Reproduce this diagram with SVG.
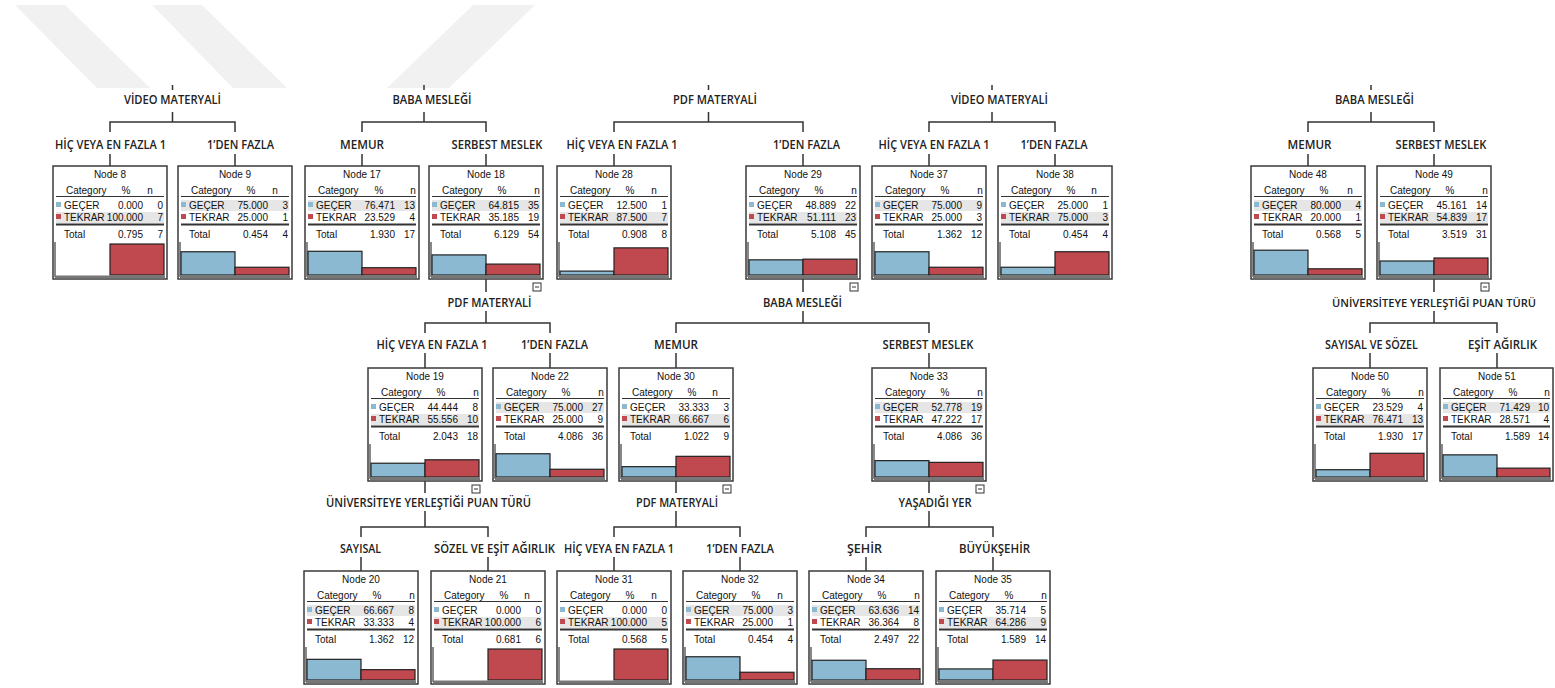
<svg xmlns="http://www.w3.org/2000/svg" width="1555" height="688" viewBox="0 0 1555 688">
<style>
.h{font-family:"Open Sans","Liberation Sans",sans-serif;font-weight:600;font-size:12.5px;fill:#222;text-anchor:middle}
.hs{font-size:11px}
.t{font-family:"Liberation Sans",Arial,sans-serif;font-size:10px;fill:#111}
.c{text-anchor:middle}
.r{text-anchor:end}
.box{fill:#fff;stroke:#3a3a3a;stroke-width:1.5}
.hl{fill:#e6e6e6}
.ul{stroke:#333;stroke-width:1}
.tl{stroke:#333;stroke-width:2}
.ax{stroke:#888;stroke-width:2}
.sb{fill:#8ab9d1}
.sr{fill:#c0484f}
.bb{fill:#8ab9d1;stroke:#222;stroke-width:1.2}
.br{fill:#c0484f;stroke:#222;stroke-width:1.2}
.base{fill:#777}
.ci rect{fill:#fff;stroke:#333;stroke-width:1}
.ci line{stroke:#333;stroke-width:1}
.con{fill:none;stroke:#333;stroke-width:1.5}
.wm{fill:#f1f1f1}
</style>
<rect width="1555" height="688" fill="#fff"/>
<g id="watermark">
<polygon class="wm" points="15,5 65,5 150,88 97,88"/>
<polygon class="wm" points="152,5 202,5 287,88 233,88"/>
<polygon class="wm" points="473,5 535,5 449,88 387,88"/>
</g>
<g id="connectors">
<path class="con" d="M172.5,85V90 M172.5,112V122 M110,132V122H235V132 M110,154V166 M235,154V166"/>
<path class="con" d="M424,85V90 M424,112V122 M362,132V122H486V132 M362,154V166 M486,154V166"/>
<path class="con" d="M708.5,85V90 M708.5,112V122 M614,132V122H803V132 M614,154V166 M803,154V166"/>
<path class="con" d="M992,85V90 M992,112V122 M929,132V122H1055V132 M929,154V166 M1055,154V166"/>
<path class="con" d="M1371,85V90 M1371,112V122 M1308,132V122H1434V132 M1308,154V166 M1434,154V166"/>
<path class="con" d="M486,279V292 M486,311V323 M425,333V323H550V333 M425,353V368 M550,353V368"/>
<path class="con" d="M803,279V292 M803,311V323 M676,333V323H929V333 M676,353V368 M929,353V368"/>
<path class="con" d="M1434,279V292 M1434,311V323 M1370,333V323H1497V333 M1370,353V368 M1497,353V368"/>
<path class="con" d="M425,481V493 M425,511V527 M361,537V527H488V537 M361,557V571 M488,557V571"/>
<path class="con" d="M676,481V493 M676,511V527 M614,537V527H740V537 M614,557V571 M740,557V571"/>
<path class="con" d="M929,481V493 M929,511V527 M866,537V527H993V537 M866,557V571 M993,557V571"/>
</g>
<g id="labels">
<text class="h" x="172.5" y="104" textLength="97" lengthAdjust="spacingAndGlyphs">VİDEO MATERYALİ</text>
<text class="h" x="110.5" y="149" textLength="111" lengthAdjust="spacingAndGlyphs">HİÇ VEYA EN FAZLA 1</text>
<text class="h" x="240.5" y="149" textLength="67" lengthAdjust="spacingAndGlyphs">1’DEN FAZLA</text>
<text class="h" x="432" y="104" textLength="79" lengthAdjust="spacingAndGlyphs">BABA MESLEĞİ</text>
<text class="h" x="362" y="149" textLength="44" lengthAdjust="spacingAndGlyphs">MEMUR</text>
<text class="h" x="497" y="149" textLength="91" lengthAdjust="spacingAndGlyphs">SERBEST MESLEK</text>
<text class="h" x="715" y="104" textLength="84" lengthAdjust="spacingAndGlyphs">PDF MATERYALİ</text>
<text class="h" x="622" y="149" textLength="111" lengthAdjust="spacingAndGlyphs">HİÇ VEYA EN FAZLA 1</text>
<text class="h" x="806.5" y="149" textLength="67" lengthAdjust="spacingAndGlyphs">1’DEN FAZLA</text>
<text class="h" x="999.5" y="104" textLength="97" lengthAdjust="spacingAndGlyphs">VİDEO MATERYALİ</text>
<text class="h" x="934" y="149" textLength="111" lengthAdjust="spacingAndGlyphs">HİÇ VEYA EN FAZLA 1</text>
<text class="h" x="1054" y="149" textLength="67" lengthAdjust="spacingAndGlyphs">1’DEN FAZLA</text>
<text class="h" x="1374.5" y="104" textLength="79" lengthAdjust="spacingAndGlyphs">BABA MESLEĞİ</text>
<text class="h" x="1309.5" y="149" textLength="44" lengthAdjust="spacingAndGlyphs">MEMUR</text>
<text class="h" x="1441" y="149" textLength="91" lengthAdjust="spacingAndGlyphs">SERBEST MESLEK</text>
<text class="h" x="489.5" y="307" textLength="84" lengthAdjust="spacingAndGlyphs">PDF MATERYALİ</text>
<text class="h" x="432" y="349" textLength="111" lengthAdjust="spacingAndGlyphs">HİÇ VEYA EN FAZLA 1</text>
<text class="h" x="554.5" y="349" textLength="67" lengthAdjust="spacingAndGlyphs">1’DEN FAZLA</text>
<text class="h" x="802.5" y="307" textLength="79" lengthAdjust="spacingAndGlyphs">BABA MESLEĞİ</text>
<text class="h" x="676" y="349" textLength="44" lengthAdjust="spacingAndGlyphs">MEMUR</text>
<text class="h" x="928" y="349" textLength="91" lengthAdjust="spacingAndGlyphs">SERBEST MESLEK</text>
<text class="h hs" x="1434" y="307" textLength="204" lengthAdjust="spacingAndGlyphs">ÜNİVERSİTEYE YERLEŞTİĞİ PUAN TÜRÜ</text>
<text class="h" x="1371.5" y="349" textLength="93" lengthAdjust="spacingAndGlyphs">SAYISAL VE SÖZEL</text>
<text class="h" x="1502.5" y="349" textLength="69" lengthAdjust="spacingAndGlyphs">EŞİT AĞIRLIK</text>
<text class="h" x="428.5" y="507" textLength="205" lengthAdjust="spacingAndGlyphs">ÜNİVERSİTEYE YERLEŞTİĞİ PUAN TÜRÜ</text>
<text class="h" x="360.5" y="553" textLength="41" lengthAdjust="spacingAndGlyphs">SAYISAL</text>
<text class="h" x="494.5" y="553" textLength="121" lengthAdjust="spacingAndGlyphs">SÖZEL VE EŞİT AĞIRLIK</text>
<text class="h" x="677" y="507" textLength="82" lengthAdjust="spacingAndGlyphs">PDF MATERYALİ</text>
<text class="h" x="619" y="553" textLength="110" lengthAdjust="spacingAndGlyphs">HİÇ VEYA EN FAZLA 1</text>
<text class="h" x="740" y="553" textLength="68" lengthAdjust="spacingAndGlyphs">1’DEN FAZLA</text>
<text class="h" x="935" y="507" textLength="73" lengthAdjust="spacingAndGlyphs">YAŞADIĞI YER</text>
<text class="h" x="864.5" y="553" textLength="35" lengthAdjust="spacingAndGlyphs">ŞEHİR</text>
<text class="h" x="994.5" y="553" textLength="71" lengthAdjust="spacingAndGlyphs">BÜYÜKŞEHİR</text>
</g>

<g id="node8" transform="translate(53,166)">
<rect class="box" width="114" height="113"/>
<text class="t c" x="57" y="12">Node 8</text>
<text class="t" x="13" y="28">Category</text><text class="t c" x="73" y="28">%</text><text class="t c" x="97" y="28">n</text>
<line class="ul" x1="3" y1="30.5" x2="111" y2="30.5"/>
<rect class="hl" x="3" y="46" width="108" height="11"/>
<rect class="sb" x="3" y="36" width="5" height="5"/><text class="t" x="11" y="43">GEÇER</text><text class="t r" x="90" y="43">0.000</text><text class="t r" x="110" y="43">0</text>
<rect class="sr" x="3" y="48" width="5" height="5"/><text class="t" x="11" y="55">TEKRAR</text><text class="t r" x="90" y="55">100.000</text><text class="t r" x="110" y="55">7</text>
<line class="tl" x1="3" y1="58.5" x2="111" y2="58.5"/>
<text class="t" x="11" y="72">Total</text><text class="t r" x="90" y="72">0.795</text><text class="t r" x="110" y="72">7</text>
<line class="ax" x1="2" y1="76" x2="2" y2="111"/>
<rect class="br" x="57" y="78" width="54" height="31"/>
<rect class="base" x="2" y="109.5" width="110" height="2.5"/>
</g>

<g id="node9" transform="translate(178,166)">
<rect class="box" width="114" height="113"/>
<text class="t c" x="57" y="12">Node 9</text>
<text class="t" x="13" y="28">Category</text><text class="t c" x="73" y="28">%</text><text class="t c" x="97" y="28">n</text>
<line class="ul" x1="3" y1="30.5" x2="111" y2="30.5"/>
<rect class="hl" x="3" y="34" width="108" height="11"/>
<rect class="sb" x="3" y="36" width="5" height="5"/><text class="t" x="11" y="43">GEÇER</text><text class="t r" x="90" y="43">75.000</text><text class="t r" x="110" y="43">3</text>
<rect class="sr" x="3" y="48" width="5" height="5"/><text class="t" x="11" y="55">TEKRAR</text><text class="t r" x="90" y="55">25.000</text><text class="t r" x="110" y="55">1</text>
<line class="tl" x1="3" y1="58.5" x2="111" y2="58.5"/>
<text class="t" x="11" y="72">Total</text><text class="t r" x="90" y="72">0.454</text><text class="t r" x="110" y="72">4</text>
<line class="ax" x1="2" y1="76" x2="2" y2="111"/>
<rect class="bb" x="3" y="85.75" width="54" height="23.25"/>
<rect class="br" x="57" y="101.25" width="54" height="7.75"/>
<rect class="base" x="2" y="109.5" width="110" height="2.5"/>
</g>

<g id="node17" transform="translate(305,166)">
<rect class="box" width="114" height="113"/>
<text class="t c" x="57" y="12">Node 17</text>
<text class="t" x="13" y="28">Category</text><text class="t c" x="74" y="28">%</text><text class="t c" x="108" y="28">n</text>
<line class="ul" x1="3" y1="30.5" x2="111" y2="30.5"/>
<rect class="hl" x="3" y="34" width="108" height="11"/>
<rect class="sb" x="3" y="36" width="5" height="5"/><text class="t" x="11" y="43">GEÇER</text><text class="t r" x="90" y="43">76.471</text><text class="t r" x="110" y="43">13</text>
<rect class="sr" x="3" y="48" width="5" height="5"/><text class="t" x="11" y="55">TEKRAR</text><text class="t r" x="90" y="55">23.529</text><text class="t r" x="110" y="55">4</text>
<line class="tl" x1="3" y1="58.5" x2="111" y2="58.5"/>
<text class="t" x="11" y="72">Total</text><text class="t r" x="90" y="72">1.930</text><text class="t r" x="110" y="72">17</text>
<line class="ax" x1="2" y1="76" x2="2" y2="111"/>
<rect class="bb" x="3" y="85.29" width="54" height="23.71"/>
<rect class="br" x="57" y="101.71" width="54" height="7.29"/>
<rect class="base" x="2" y="109.5" width="110" height="2.5"/>
</g>

<g id="node18" transform="translate(429,166)">
<rect class="box" width="114" height="113"/>
<text class="t c" x="57" y="12">Node 18</text>
<text class="t" x="13" y="28">Category</text><text class="t c" x="73" y="28">%</text><text class="t c" x="108" y="28">n</text>
<line class="ul" x1="3" y1="30.5" x2="111" y2="30.5"/>
<rect class="hl" x="3" y="34" width="108" height="11"/>
<rect class="sb" x="3" y="36" width="5" height="5"/><text class="t" x="11" y="43">GEÇER</text><text class="t r" x="90" y="43">64.815</text><text class="t r" x="110" y="43">35</text>
<rect class="sr" x="3" y="48" width="5" height="5"/><text class="t" x="11" y="55">TEKRAR</text><text class="t r" x="90" y="55">35.185</text><text class="t r" x="110" y="55">19</text>
<line class="tl" x1="3" y1="58.5" x2="111" y2="58.5"/>
<text class="t" x="11" y="72">Total</text><text class="t r" x="90" y="72">6.129</text><text class="t r" x="110" y="72">54</text>
<line class="ax" x1="2" y1="76" x2="2" y2="111"/>
<rect class="bb" x="3" y="88.91" width="54" height="20.09"/>
<rect class="br" x="57" y="98.09" width="54" height="10.91"/>
<rect class="base" x="2" y="109.5" width="110" height="2.5"/>
<g class="ci"><rect x="104" y="117" width="8" height="8"/><line x1="106" y1="121" x2="110" y2="121"/></g>
</g>

<g id="node28" transform="translate(557,166)">
<rect class="box" width="114" height="113"/>
<text class="t c" x="57" y="12">Node 28</text>
<text class="t" x="13" y="28">Category</text><text class="t c" x="73" y="28">%</text><text class="t c" x="97" y="28">n</text>
<line class="ul" x1="3" y1="30.5" x2="111" y2="30.5"/>
<rect class="hl" x="3" y="46" width="108" height="11"/>
<rect class="sb" x="3" y="36" width="5" height="5"/><text class="t" x="11" y="43">GEÇER</text><text class="t r" x="90" y="43">12.500</text><text class="t r" x="110" y="43">1</text>
<rect class="sr" x="3" y="48" width="5" height="5"/><text class="t" x="11" y="55">TEKRAR</text><text class="t r" x="90" y="55">87.500</text><text class="t r" x="110" y="55">7</text>
<line class="tl" x1="3" y1="58.5" x2="111" y2="58.5"/>
<text class="t" x="11" y="72">Total</text><text class="t r" x="90" y="72">0.908</text><text class="t r" x="110" y="72">8</text>
<line class="ax" x1="2" y1="76" x2="2" y2="111"/>
<rect class="bb" x="3" y="105.12" width="54" height="3.88"/>
<rect class="br" x="57" y="81.87" width="54" height="27.13"/>
<rect class="base" x="2" y="109.5" width="110" height="2.5"/>
</g>

<g id="node29" transform="translate(746,166)">
<rect class="box" width="114" height="113"/>
<text class="t c" x="57" y="12">Node 29</text>
<text class="t" x="13" y="28">Category</text><text class="t c" x="73" y="28">%</text><text class="t c" x="108" y="28">n</text>
<line class="ul" x1="3" y1="30.5" x2="111" y2="30.5"/>
<rect class="hl" x="3" y="46" width="108" height="11"/>
<rect class="sb" x="3" y="36" width="5" height="5"/><text class="t" x="11" y="43">GEÇER</text><text class="t r" x="90" y="43">48.889</text><text class="t r" x="110" y="43">22</text>
<rect class="sr" x="3" y="48" width="5" height="5"/><text class="t" x="11" y="55">TEKRAR</text><text class="t r" x="90" y="55">51.111</text><text class="t r" x="110" y="55">23</text>
<line class="tl" x1="3" y1="58.5" x2="111" y2="58.5"/>
<text class="t" x="11" y="72">Total</text><text class="t r" x="90" y="72">5.108</text><text class="t r" x="110" y="72">45</text>
<line class="ax" x1="2" y1="76" x2="2" y2="111"/>
<rect class="bb" x="3" y="93.84" width="54" height="15.16"/>
<rect class="br" x="57" y="93.16" width="54" height="15.84"/>
<rect class="base" x="2" y="109.5" width="110" height="2.5"/>
<g class="ci"><rect x="104" y="117" width="8" height="8"/><line x1="106" y1="121" x2="110" y2="121"/></g>
</g>

<g id="node37" transform="translate(872,166)">
<rect class="box" width="114" height="113"/>
<text class="t c" x="57" y="12">Node 37</text>
<text class="t" x="13" y="28">Category</text><text class="t c" x="73" y="28">%</text><text class="t c" x="108" y="28">n</text>
<line class="ul" x1="3" y1="30.5" x2="111" y2="30.5"/>
<rect class="hl" x="3" y="34" width="108" height="11"/>
<rect class="sb" x="3" y="36" width="5" height="5"/><text class="t" x="11" y="43">GEÇER</text><text class="t r" x="90" y="43">75.000</text><text class="t r" x="110" y="43">9</text>
<rect class="sr" x="3" y="48" width="5" height="5"/><text class="t" x="11" y="55">TEKRAR</text><text class="t r" x="90" y="55">25.000</text><text class="t r" x="110" y="55">3</text>
<line class="tl" x1="3" y1="58.5" x2="111" y2="58.5"/>
<text class="t" x="11" y="72">Total</text><text class="t r" x="90" y="72">1.362</text><text class="t r" x="110" y="72">12</text>
<line class="ax" x1="2" y1="76" x2="2" y2="111"/>
<rect class="bb" x="3" y="85.75" width="54" height="23.25"/>
<rect class="br" x="57" y="101.25" width="54" height="7.75"/>
<rect class="base" x="2" y="109.5" width="110" height="2.5"/>
</g>

<g id="node38" transform="translate(998,166)">
<rect class="box" width="114" height="113"/>
<text class="t c" x="57" y="12">Node 38</text>
<text class="t" x="13" y="28">Category</text><text class="t c" x="73" y="28">%</text><text class="t c" x="96" y="28">n</text>
<line class="ul" x1="3" y1="30.5" x2="111" y2="30.5"/>
<rect class="hl" x="3" y="46" width="108" height="11"/>
<rect class="sb" x="3" y="36" width="5" height="5"/><text class="t" x="11" y="43">GEÇER</text><text class="t r" x="90" y="43">25.000</text><text class="t r" x="110" y="43">1</text>
<rect class="sr" x="3" y="48" width="5" height="5"/><text class="t" x="11" y="55">TEKRAR</text><text class="t r" x="90" y="55">75.000</text><text class="t r" x="110" y="55">3</text>
<line class="tl" x1="3" y1="58.5" x2="111" y2="58.5"/>
<text class="t" x="11" y="72">Total</text><text class="t r" x="90" y="72">0.454</text><text class="t r" x="110" y="72">4</text>
<line class="ax" x1="2" y1="76" x2="2" y2="111"/>
<rect class="bb" x="3" y="101.25" width="54" height="7.75"/>
<rect class="br" x="57" y="85.75" width="54" height="23.25"/>
<rect class="base" x="2" y="109.5" width="110" height="2.5"/>
</g>

<g id="node48" transform="translate(1251,166)">
<rect class="box" width="114" height="113"/>
<text class="t c" x="57" y="12">Node 48</text>
<text class="t" x="13" y="28">Category</text><text class="t c" x="73" y="28">%</text><text class="t c" x="99" y="28">n</text>
<line class="ul" x1="3" y1="30.5" x2="111" y2="30.5"/>
<rect class="hl" x="3" y="34" width="108" height="11"/>
<rect class="sb" x="3" y="36" width="5" height="5"/><text class="t" x="11" y="43">GEÇER</text><text class="t r" x="90" y="43">80.000</text><text class="t r" x="110" y="43">4</text>
<rect class="sr" x="3" y="48" width="5" height="5"/><text class="t" x="11" y="55">TEKRAR</text><text class="t r" x="90" y="55">20.000</text><text class="t r" x="110" y="55">1</text>
<line class="tl" x1="3" y1="58.5" x2="111" y2="58.5"/>
<text class="t" x="11" y="72">Total</text><text class="t r" x="90" y="72">0.568</text><text class="t r" x="110" y="72">5</text>
<line class="ax" x1="2" y1="76" x2="2" y2="111"/>
<rect class="bb" x="3" y="84.2" width="54" height="24.8"/>
<rect class="br" x="57" y="102.8" width="54" height="6.2"/>
<rect class="base" x="2" y="109.5" width="110" height="2.5"/>
</g>

<g id="node49" transform="translate(1377,166)">
<rect class="box" width="114" height="113"/>
<text class="t c" x="57" y="12">Node 49</text>
<text class="t" x="13" y="28">Category</text><text class="t c" x="73" y="28">%</text><text class="t c" x="108" y="28">n</text>
<line class="ul" x1="3" y1="30.5" x2="111" y2="30.5"/>
<rect class="hl" x="3" y="46" width="108" height="11"/>
<rect class="sb" x="3" y="36" width="5" height="5"/><text class="t" x="11" y="43">GEÇER</text><text class="t r" x="90" y="43">45.161</text><text class="t r" x="110" y="43">14</text>
<rect class="sr" x="3" y="48" width="5" height="5"/><text class="t" x="11" y="55">TEKRAR</text><text class="t r" x="90" y="55">54.839</text><text class="t r" x="110" y="55">17</text>
<line class="tl" x1="3" y1="58.5" x2="111" y2="58.5"/>
<text class="t" x="11" y="72">Total</text><text class="t r" x="90" y="72">3.519</text><text class="t r" x="110" y="72">31</text>
<line class="ax" x1="2" y1="76" x2="2" y2="111"/>
<rect class="bb" x="3" y="95" width="54" height="14"/>
<rect class="br" x="57" y="92" width="54" height="17"/>
<rect class="base" x="2" y="109.5" width="110" height="2.5"/>
<g class="ci"><rect x="104" y="117" width="8" height="8"/><line x1="106" y1="121" x2="110" y2="121"/></g>
</g>

<g id="node19" transform="translate(368,368)">
<rect class="box" width="114" height="113"/>
<text class="t c" x="57" y="12">Node 19</text>
<text class="t" x="13" y="28">Category</text><text class="t c" x="73" y="28">%</text><text class="t c" x="108" y="28">n</text>
<line class="ul" x1="3" y1="30.5" x2="111" y2="30.5"/>
<rect class="hl" x="3" y="46" width="108" height="11"/>
<rect class="sb" x="3" y="36" width="5" height="5"/><text class="t" x="11" y="43">GEÇER</text><text class="t r" x="90" y="43">44.444</text><text class="t r" x="110" y="43">8</text>
<rect class="sr" x="3" y="48" width="5" height="5"/><text class="t" x="11" y="55">TEKRAR</text><text class="t r" x="90" y="55">55.556</text><text class="t r" x="110" y="55">10</text>
<line class="tl" x1="3" y1="58.5" x2="111" y2="58.5"/>
<text class="t" x="11" y="72">Total</text><text class="t r" x="90" y="72">2.043</text><text class="t r" x="110" y="72">18</text>
<line class="ax" x1="2" y1="76" x2="2" y2="111"/>
<rect class="bb" x="3" y="95.22" width="54" height="13.78"/>
<rect class="br" x="57" y="91.78" width="54" height="17.22"/>
<rect class="base" x="2" y="109.5" width="110" height="2.5"/>
<g class="ci"><rect x="104" y="117" width="8" height="8"/><line x1="106" y1="121" x2="110" y2="121"/></g>
</g>

<g id="node22" transform="translate(493,368)">
<rect class="box" width="114" height="113"/>
<text class="t c" x="57" y="12">Node 22</text>
<text class="t" x="13" y="28">Category</text><text class="t c" x="73" y="28">%</text><text class="t c" x="108" y="28">n</text>
<line class="ul" x1="3" y1="30.5" x2="111" y2="30.5"/>
<rect class="hl" x="3" y="34" width="108" height="11"/>
<rect class="sb" x="3" y="36" width="5" height="5"/><text class="t" x="11" y="43">GEÇER</text><text class="t r" x="90" y="43">75.000</text><text class="t r" x="110" y="43">27</text>
<rect class="sr" x="3" y="48" width="5" height="5"/><text class="t" x="11" y="55">TEKRAR</text><text class="t r" x="90" y="55">25.000</text><text class="t r" x="110" y="55">9</text>
<line class="tl" x1="3" y1="58.5" x2="111" y2="58.5"/>
<text class="t" x="11" y="72">Total</text><text class="t r" x="90" y="72">4.086</text><text class="t r" x="110" y="72">36</text>
<line class="ax" x1="2" y1="76" x2="2" y2="111"/>
<rect class="bb" x="3" y="85.75" width="54" height="23.25"/>
<rect class="br" x="57" y="101.25" width="54" height="7.75"/>
<rect class="base" x="2" y="109.5" width="110" height="2.5"/>
</g>

<g id="node30" transform="translate(619,368)">
<rect class="box" width="114" height="113"/>
<text class="t c" x="57" y="12">Node 30</text>
<text class="t" x="13" y="28">Category</text><text class="t c" x="73" y="28">%</text><text class="t c" x="96" y="28">n</text>
<line class="ul" x1="3" y1="30.5" x2="111" y2="30.5"/>
<rect class="hl" x="3" y="46" width="108" height="11"/>
<rect class="sb" x="3" y="36" width="5" height="5"/><text class="t" x="11" y="43">GEÇER</text><text class="t r" x="90" y="43">33.333</text><text class="t r" x="110" y="43">3</text>
<rect class="sr" x="3" y="48" width="5" height="5"/><text class="t" x="11" y="55">TEKRAR</text><text class="t r" x="90" y="55">66.667</text><text class="t r" x="110" y="55">6</text>
<line class="tl" x1="3" y1="58.5" x2="111" y2="58.5"/>
<text class="t" x="11" y="72">Total</text><text class="t r" x="90" y="72">1.022</text><text class="t r" x="110" y="72">9</text>
<line class="ax" x1="2" y1="76" x2="2" y2="111"/>
<rect class="bb" x="3" y="98.67" width="54" height="10.33"/>
<rect class="br" x="57" y="88.33" width="54" height="20.67"/>
<rect class="base" x="2" y="109.5" width="110" height="2.5"/>
<g class="ci"><rect x="104" y="117" width="8" height="8"/><line x1="106" y1="121" x2="110" y2="121"/></g>
</g>

<g id="node33" transform="translate(872,368)">
<rect class="box" width="114" height="113"/>
<text class="t c" x="57" y="12">Node 33</text>
<text class="t" x="13" y="28">Category</text><text class="t c" x="73" y="28">%</text><text class="t c" x="108" y="28">n</text>
<line class="ul" x1="3" y1="30.5" x2="111" y2="30.5"/>
<rect class="hl" x="3" y="34" width="108" height="11"/>
<rect class="sb" x="3" y="36" width="5" height="5"/><text class="t" x="11" y="43">GEÇER</text><text class="t r" x="90" y="43">52.778</text><text class="t r" x="110" y="43">19</text>
<rect class="sr" x="3" y="48" width="5" height="5"/><text class="t" x="11" y="55">TEKRAR</text><text class="t r" x="90" y="55">47.222</text><text class="t r" x="110" y="55">17</text>
<line class="tl" x1="3" y1="58.5" x2="111" y2="58.5"/>
<text class="t" x="11" y="72">Total</text><text class="t r" x="90" y="72">4.086</text><text class="t r" x="110" y="72">36</text>
<line class="ax" x1="2" y1="76" x2="2" y2="111"/>
<rect class="bb" x="3" y="92.64" width="54" height="16.36"/>
<rect class="br" x="57" y="94.36" width="54" height="14.64"/>
<rect class="base" x="2" y="109.5" width="110" height="2.5"/>
<g class="ci"><rect x="104" y="117" width="8" height="8"/><line x1="106" y1="121" x2="110" y2="121"/></g>
</g>

<g id="node50" transform="translate(1313,368)">
<rect class="box" width="114" height="113"/>
<text class="t c" x="57" y="12">Node 50</text>
<text class="t" x="13" y="28">Category</text><text class="t c" x="73" y="28">%</text><text class="t c" x="108" y="28">n</text>
<line class="ul" x1="3" y1="30.5" x2="111" y2="30.5"/>
<rect class="hl" x="3" y="46" width="108" height="11"/>
<rect class="sb" x="3" y="36" width="5" height="5"/><text class="t" x="11" y="43">GEÇER</text><text class="t r" x="90" y="43">23.529</text><text class="t r" x="110" y="43">4</text>
<rect class="sr" x="3" y="48" width="5" height="5"/><text class="t" x="11" y="55">TEKRAR</text><text class="t r" x="90" y="55">76.471</text><text class="t r" x="110" y="55">13</text>
<line class="tl" x1="3" y1="58.5" x2="111" y2="58.5"/>
<text class="t" x="11" y="72">Total</text><text class="t r" x="90" y="72">1.930</text><text class="t r" x="110" y="72">17</text>
<line class="ax" x1="2" y1="76" x2="2" y2="111"/>
<rect class="bb" x="3" y="101.71" width="54" height="7.29"/>
<rect class="br" x="57" y="85.29" width="54" height="23.71"/>
<rect class="base" x="2" y="109.5" width="110" height="2.5"/>
</g>

<g id="node51" transform="translate(1440,368)">
<rect class="box" width="113" height="113"/>
<text class="t c" x="57" y="12">Node 51</text>
<text class="t" x="13" y="28">Category</text><text class="t c" x="73" y="28">%</text><text class="t c" x="107" y="28">n</text>
<line class="ul" x1="3" y1="30.5" x2="110" y2="30.5"/>
<rect class="hl" x="3" y="34" width="107" height="11"/>
<rect class="sb" x="3" y="36" width="5" height="5"/><text class="t" x="11" y="43">GEÇER</text><text class="t r" x="90" y="43">71.429</text><text class="t r" x="109" y="43">10</text>
<rect class="sr" x="3" y="48" width="5" height="5"/><text class="t" x="11" y="55">TEKRAR</text><text class="t r" x="90" y="55">28.571</text><text class="t r" x="109" y="55">4</text>
<line class="tl" x1="3" y1="58.5" x2="110" y2="58.5"/>
<text class="t" x="11" y="72">Total</text><text class="t r" x="90" y="72">1.589</text><text class="t r" x="109" y="72">14</text>
<line class="ax" x1="2" y1="76" x2="2" y2="111"/>
<rect class="bb" x="3" y="86.86" width="54" height="22.14"/>
<rect class="br" x="57" y="100.14" width="53" height="8.86"/>
<rect class="base" x="2" y="109.5" width="109" height="2.5"/>
</g>

<g id="node20" transform="translate(304,571)">
<rect class="box" width="114" height="113"/>
<text class="t c" x="57" y="12">Node 20</text>
<text class="t" x="13" y="28">Category</text><text class="t c" x="73" y="28">%</text><text class="t c" x="108" y="28">n</text>
<line class="ul" x1="3" y1="30.5" x2="111" y2="30.5"/>
<rect class="hl" x="3" y="34" width="108" height="11"/>
<rect class="sb" x="3" y="36" width="5" height="5"/><text class="t" x="11" y="43">GEÇER</text><text class="t r" x="90" y="43">66.667</text><text class="t r" x="110" y="43">8</text>
<rect class="sr" x="3" y="48" width="5" height="5"/><text class="t" x="11" y="55">TEKRAR</text><text class="t r" x="90" y="55">33.333</text><text class="t r" x="110" y="55">4</text>
<line class="tl" x1="3" y1="58.5" x2="111" y2="58.5"/>
<text class="t" x="11" y="72">Total</text><text class="t r" x="90" y="72">1.362</text><text class="t r" x="110" y="72">12</text>
<line class="ax" x1="2" y1="76" x2="2" y2="111"/>
<rect class="bb" x="3" y="88.33" width="54" height="20.67"/>
<rect class="br" x="57" y="98.67" width="54" height="10.33"/>
<rect class="base" x="2" y="109.5" width="110" height="2.5"/>
</g>

<g id="node21" transform="translate(431,571)">
<rect class="box" width="114" height="113"/>
<text class="t c" x="57" y="12">Node 21</text>
<text class="t" x="13" y="28">Category</text><text class="t c" x="73" y="28">%</text><text class="t c" x="96" y="28">n</text>
<line class="ul" x1="3" y1="30.5" x2="111" y2="30.5"/>
<rect class="hl" x="3" y="46" width="108" height="11"/>
<rect class="sb" x="3" y="36" width="5" height="5"/><text class="t" x="11" y="43">GEÇER</text><text class="t r" x="90" y="43">0.000</text><text class="t r" x="110" y="43">0</text>
<rect class="sr" x="3" y="48" width="5" height="5"/><text class="t" x="11" y="55">TEKRAR</text><text class="t r" x="90" y="55">100.000</text><text class="t r" x="110" y="55">6</text>
<line class="tl" x1="3" y1="58.5" x2="111" y2="58.5"/>
<text class="t" x="11" y="72">Total</text><text class="t r" x="90" y="72">0.681</text><text class="t r" x="110" y="72">6</text>
<line class="ax" x1="2" y1="76" x2="2" y2="111"/>
<rect class="br" x="57" y="78" width="54" height="31"/>
<rect class="base" x="2" y="109.5" width="110" height="2.5"/>
</g>

<g id="node31" transform="translate(557,571)">
<rect class="box" width="114" height="113"/>
<text class="t c" x="57" y="12">Node 31</text>
<text class="t" x="13" y="28">Category</text><text class="t c" x="73" y="28">%</text><text class="t c" x="97" y="28">n</text>
<line class="ul" x1="3" y1="30.5" x2="111" y2="30.5"/>
<rect class="hl" x="3" y="46" width="108" height="11"/>
<rect class="sb" x="3" y="36" width="5" height="5"/><text class="t" x="11" y="43">GEÇER</text><text class="t r" x="90" y="43">0.000</text><text class="t r" x="110" y="43">0</text>
<rect class="sr" x="3" y="48" width="5" height="5"/><text class="t" x="11" y="55">TEKRAR</text><text class="t r" x="90" y="55">100.000</text><text class="t r" x="110" y="55">5</text>
<line class="tl" x1="3" y1="58.5" x2="111" y2="58.5"/>
<text class="t" x="11" y="72">Total</text><text class="t r" x="90" y="72">0.568</text><text class="t r" x="110" y="72">5</text>
<line class="ax" x1="2" y1="76" x2="2" y2="111"/>
<rect class="br" x="57" y="78" width="54" height="31"/>
<rect class="base" x="2" y="109.5" width="110" height="2.5"/>
</g>

<g id="node32" transform="translate(683,571)">
<rect class="box" width="114" height="113"/>
<text class="t c" x="57" y="12">Node 32</text>
<text class="t" x="13" y="28">Category</text><text class="t c" x="73" y="28">%</text><text class="t c" x="97" y="28">n</text>
<line class="ul" x1="3" y1="30.5" x2="111" y2="30.5"/>
<rect class="hl" x="3" y="34" width="108" height="11"/>
<rect class="sb" x="3" y="36" width="5" height="5"/><text class="t" x="11" y="43">GEÇER</text><text class="t r" x="90" y="43">75.000</text><text class="t r" x="110" y="43">3</text>
<rect class="sr" x="3" y="48" width="5" height="5"/><text class="t" x="11" y="55">TEKRAR</text><text class="t r" x="90" y="55">25.000</text><text class="t r" x="110" y="55">1</text>
<line class="tl" x1="3" y1="58.5" x2="111" y2="58.5"/>
<text class="t" x="11" y="72">Total</text><text class="t r" x="90" y="72">0.454</text><text class="t r" x="110" y="72">4</text>
<line class="ax" x1="2" y1="76" x2="2" y2="111"/>
<rect class="bb" x="3" y="85.75" width="54" height="23.25"/>
<rect class="br" x="57" y="101.25" width="54" height="7.75"/>
<rect class="base" x="2" y="109.5" width="110" height="2.5"/>
</g>

<g id="node34" transform="translate(809,571)">
<rect class="box" width="114" height="113"/>
<text class="t c" x="57" y="12">Node 34</text>
<text class="t" x="13" y="28">Category</text><text class="t c" x="73" y="28">%</text><text class="t c" x="108" y="28">n</text>
<line class="ul" x1="3" y1="30.5" x2="111" y2="30.5"/>
<rect class="hl" x="3" y="34" width="108" height="11"/>
<rect class="sb" x="3" y="36" width="5" height="5"/><text class="t" x="11" y="43">GEÇER</text><text class="t r" x="90" y="43">63.636</text><text class="t r" x="110" y="43">14</text>
<rect class="sr" x="3" y="48" width="5" height="5"/><text class="t" x="11" y="55">TEKRAR</text><text class="t r" x="90" y="55">36.364</text><text class="t r" x="110" y="55">8</text>
<line class="tl" x1="3" y1="58.5" x2="111" y2="58.5"/>
<text class="t" x="11" y="72">Total</text><text class="t r" x="90" y="72">2.497</text><text class="t r" x="110" y="72">22</text>
<line class="ax" x1="2" y1="76" x2="2" y2="111"/>
<rect class="bb" x="3" y="89.27" width="54" height="19.73"/>
<rect class="br" x="57" y="97.73" width="54" height="11.27"/>
<rect class="base" x="2" y="109.5" width="110" height="2.5"/>
</g>

<g id="node35" transform="translate(936,571)">
<rect class="box" width="114" height="113"/>
<text class="t c" x="57" y="12">Node 35</text>
<text class="t" x="13" y="28">Category</text><text class="t c" x="73" y="28">%</text><text class="t c" x="108" y="28">n</text>
<line class="ul" x1="3" y1="30.5" x2="111" y2="30.5"/>
<rect class="hl" x="3" y="46" width="108" height="11"/>
<rect class="sb" x="3" y="36" width="5" height="5"/><text class="t" x="11" y="43">GEÇER</text><text class="t r" x="90" y="43">35.714</text><text class="t r" x="110" y="43">5</text>
<rect class="sr" x="3" y="48" width="5" height="5"/><text class="t" x="11" y="55">TEKRAR</text><text class="t r" x="90" y="55">64.286</text><text class="t r" x="110" y="55">9</text>
<line class="tl" x1="3" y1="58.5" x2="111" y2="58.5"/>
<text class="t" x="11" y="72">Total</text><text class="t r" x="90" y="72">1.589</text><text class="t r" x="110" y="72">14</text>
<line class="ax" x1="2" y1="76" x2="2" y2="111"/>
<rect class="bb" x="3" y="97.93" width="54" height="11.07"/>
<rect class="br" x="57" y="89.07" width="54" height="19.93"/>
<rect class="base" x="2" y="109.5" width="110" height="2.5"/>
</g>
</svg>
